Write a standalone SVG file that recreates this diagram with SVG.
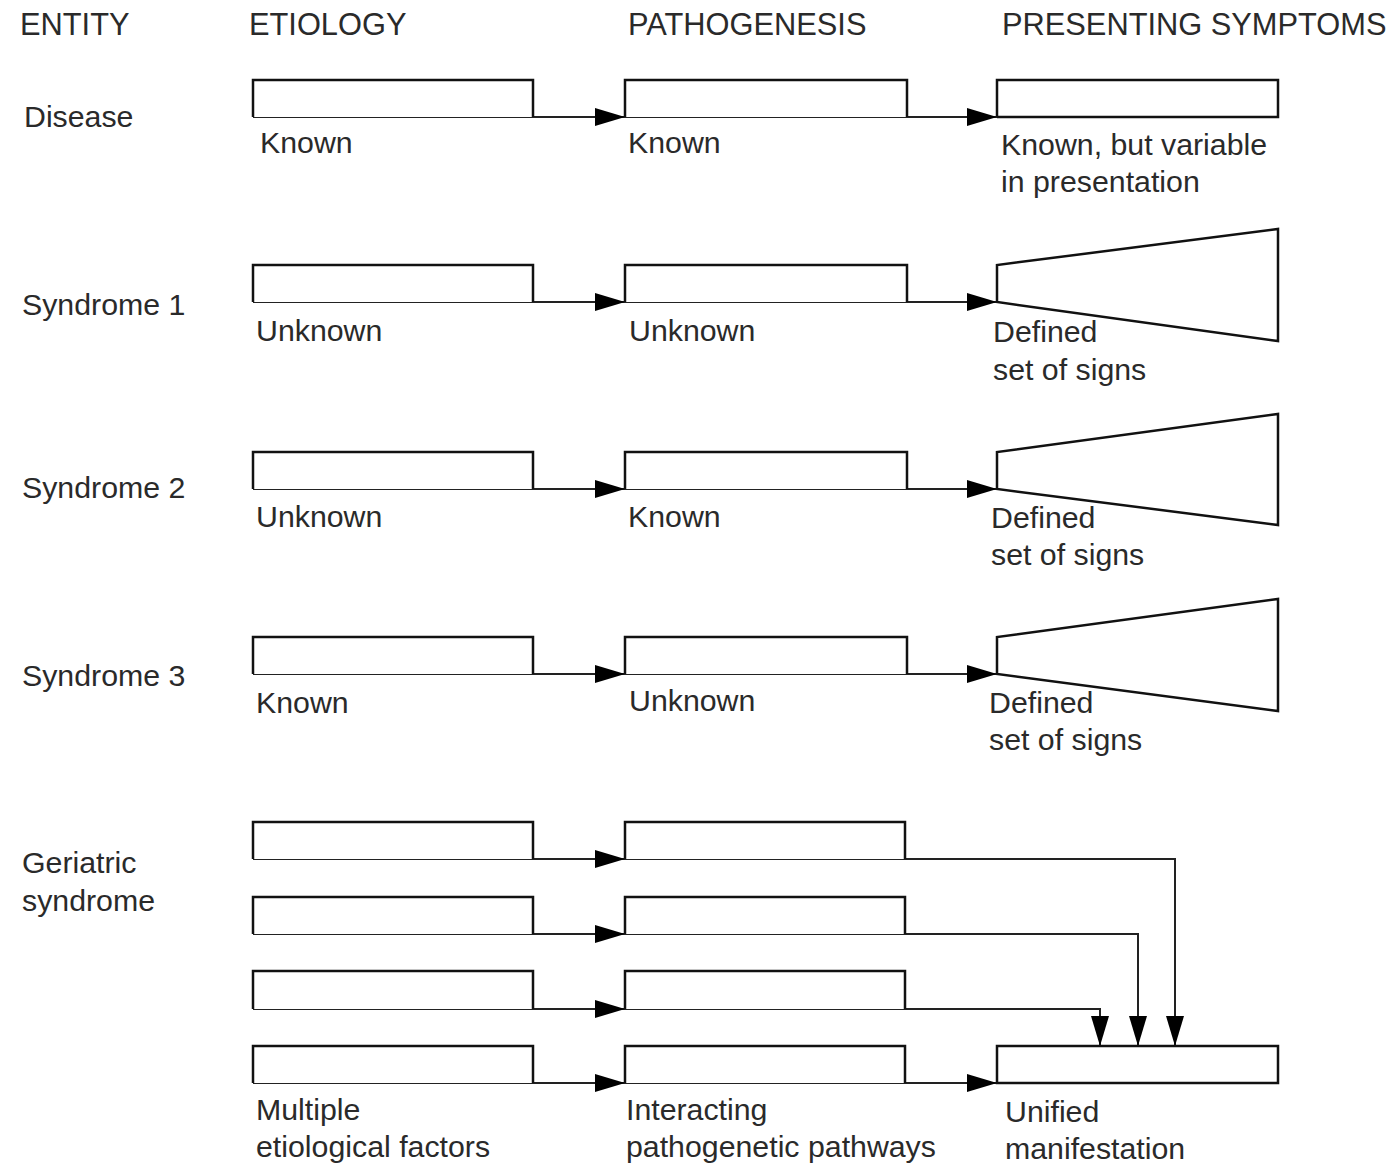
<svg xmlns="http://www.w3.org/2000/svg" width="1391" height="1165" viewBox="0 0 1391 1165">
<style>
text{font-family:"Liberation Sans",Arial,sans-serif;font-size:30.3px;fill:#2a2a2a}
#headers text{font-size:30.8px}
.box{fill:#fff;stroke:#111;stroke-width:2.5}
.con{fill:none;stroke:#222;stroke-width:2}
</style>
<defs>
<marker id="ah" markerUnits="userSpaceOnUse" markerWidth="32" markerHeight="20" refX="30" refY="10" orient="auto">
<path d="M0,1 L30,10 L0,19 Z" fill="#000"/>
</marker>
</defs>
<rect width="1391" height="1165" fill="#fff"/>
<g id="headers">
<text x="20" y="35">ENTITY</text>
<text x="249" y="35">ETIOLOGY</text>
<text x="628" y="35">PATHOGENESIS</text>
<text x="1002" y="35">PRESENTING SYMPTOMS</text>
</g>
<g id="connectors">
<path class="con" d="M253,117 H625" marker-end="url(#ah)"/>
<path class="con" d="M625,117 H997" marker-end="url(#ah)"/>
<path class="con" d="M253,302 H625" marker-end="url(#ah)"/>
<path class="con" d="M625,302 H997" marker-end="url(#ah)"/>
<path class="con" d="M253,489 H625" marker-end="url(#ah)"/>
<path class="con" d="M625,489 H997" marker-end="url(#ah)"/>
<path class="con" d="M253,674 H625" marker-end="url(#ah)"/>
<path class="con" d="M625,674 H997" marker-end="url(#ah)"/>
<path class="con" d="M253,859 H625" marker-end="url(#ah)"/>
<path class="con" d="M253,934 H625" marker-end="url(#ah)"/>
<path class="con" d="M253,1009 H625" marker-end="url(#ah)"/>
<path class="con" d="M253,1083 H625" marker-end="url(#ah)"/>
<path class="con" d="M625,859 H1175 V1046" marker-end="url(#ah)"/>
<path class="con" d="M625,934 H1138 V1046" marker-end="url(#ah)"/>
<path class="con" d="M625,1009 H1100 V1046" marker-end="url(#ah)"/>
<path class="con" d="M625,1083 H997" marker-end="url(#ah)"/>
</g>
<g id="disease">
<text x="24" y="127">Disease</text>
<path class="box" d="M253,117 V80 H533 V117"/>
<path class="box" d="M625,117 V80 H907 V117"/>
<path class="box" d="M997,117 V80 H1278 V117 H997"/>
<text x="260" y="153">Known</text>
<text x="628" y="153">Known</text>
<text x="1001" y="155">Known, but variable</text>
<text x="1001" y="192">in presentation</text>
</g>
<g id="syndrome1">
<text x="22" y="315">Syndrome 1</text>
<path class="box" d="M253,302 V265 H533 V302"/>
<path class="box" d="M625,302 V265 H907 V302"/>
<path class="box" d="M997,302 V265 L1278,229 V341 Z"/>
<text x="256" y="341">Unknown</text>
<text x="629" y="341">Unknown</text>
<text x="993" y="342">Defined</text>
<text x="993" y="380">set of signs</text>
</g>
<g id="syndrome2">
<text x="22" y="498">Syndrome 2</text>
<path class="box" d="M253,489 V452 H533 V489"/>
<path class="box" d="M625,489 V452 H907 V489"/>
<path class="box" d="M997,489 V452 L1278,414 V525 Z"/>
<text x="256" y="527">Unknown</text>
<text x="628" y="527">Known</text>
<text x="991" y="528">Defined</text>
<text x="991" y="565">set of signs</text>
</g>
<g id="syndrome3">
<text x="22" y="686">Syndrome 3</text>
<path class="box" d="M253,674 V637 H533 V674"/>
<path class="box" d="M625,674 V637 H907 V674"/>
<path class="box" d="M997,674 V637 L1278,599 V711 Z"/>
<text x="256" y="713">Known</text>
<text x="629" y="711">Unknown</text>
<text x="989" y="713">Defined</text>
<text x="989" y="750">set of signs</text>
</g>
<g id="geriatric">
<text x="22" y="873">Geriatric</text>
<text x="22" y="911">syndrome</text>
<path class="box" d="M253,859 V822 H533 V859"/>
<path class="box" d="M625,859 V822 H905 V859"/>
<path class="box" d="M253,934 V897 H533 V934"/>
<path class="box" d="M625,934 V897 H905 V934"/>
<path class="box" d="M253,1009 V971 H533 V1009"/>
<path class="box" d="M625,1009 V971 H905 V1009"/>
<path class="box" d="M253,1083 V1046 H533 V1083"/>
<path class="box" d="M625,1083 V1046 H905 V1083"/>
<path class="box" d="M997,1083 V1046 H1278 V1083 Z"/>
<text x="256" y="1120">Multiple</text>
<text x="256" y="1157">etiological factors</text>
<text x="626" y="1120">Interacting</text>
<text x="626" y="1157">pathogenetic pathways</text>
<text x="1005" y="1122">Unified</text>
<text x="1005" y="1159">manifestation</text>
</g>
</svg>
